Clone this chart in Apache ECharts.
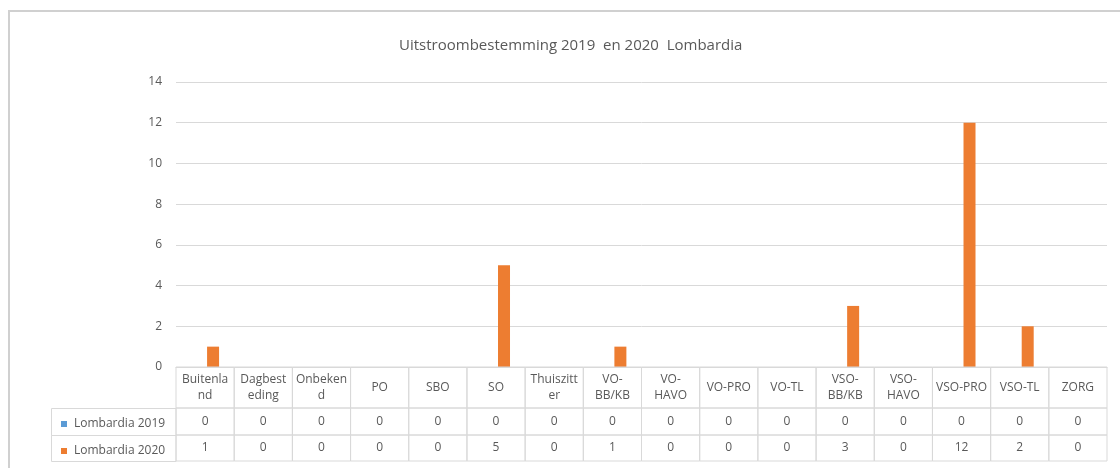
<!DOCTYPE html>
<html>
<head>
<meta charset="utf-8">
<script src="https://cdn.jsdelivr.net/npm/echarts@6/dist/echarts.min.js"></script>
<style>html,body{margin:0;padding:0;background:#fff}#c{width:1120px;height:468px}</style>
</head>
<body>
<div id="c"></div>
<script>
var titleText = 'Uitstroombestemming 2019  en 2020  Lombardia';
var categories = ['Buitenland','Dagbesteding','Onbekend','PO','SBO','SO','Thuiszitter','VO-BB/KB','VO-HAVO','VO-PRO','VO-TL','VSO-BB/KB','VSO-HAVO','VSO-PRO','VSO-TL','ZORG'];
var tickLabels = ['Buitenla\nnd','Dagbest\neding','Onbeken\nd','PO','SBO','SO','Thuiszitt\ner','VO-\nBB/KB','VO-\nHAVO','VO-PRO','VO-TL','VSO-\nBB/KB','VSO-\nHAVO','VSO-PRO','VSO-TL','ZORG'];
var seriesNames = ['Lombardia 2019','Lombardia 2020'];
var values2019 = [0,0,0,0,0,0,0,0,0,0,0,0,0,0,0,0];
var values2020 = [1,0,0,0,0,5,0,1,0,0,0,3,0,12,2,0];
var yTicks = [0,2,4,6,8,10,12,14];

var FONT = '"Open Sans", "Noto Sans", sans-serif';
var TXT = '#595959';
var LINE = '#d9d9d9';
var COLORS = ['#5b9bd5','#ed7d31'];
var ROWH = [41, 27, 26];

var tableData = categories.map(function(c, i){ return [i, values2019[i], values2020[i]]; });

var chart = echarts.init(document.getElementById('c'), null, {renderer:'canvas'});
var gridLeft = 176, gridTop = 82, gridBottomY = 367, gridRightX = 1107;

var option = {
  animation: false,
  color: COLORS,
  textStyle: {fontFamily: FONT},
  title: {
    text: titleText, left: 394, top: 33,
    textStyle: {fontFamily: FONT, fontSize: 15, fontWeight: 'normal', color: TXT}
  },
  legend: {
    data: seriesNames, orient: 'vertical', left: 56, top: 413,
    icon: 'rect', itemWidth: 6, itemHeight: 6, itemGap: 15,
    textStyle: {fontFamily: FONT, fontSize: 12, color: TXT, padding: [0,0,0,2]}
  },
  grid: {left: gridLeft, top: gridTop, right: 1120 - gridRightX, bottom: 468 - gridBottomY, containLabel: false},
  xAxis: {
    type: 'category', data: categories,
    axisLine: {show: true, lineStyle: {color: LINE}},
    axisTick: {show: false}, axisLabel: {show: false}
  },
  yAxis: {
    type: 'value', min: yTicks[0], max: yTicks[yTicks.length-1], interval: 2,
    axisLine: {show: false}, axisTick: {show: false},
    axisLabel: {color: TXT, fontFamily: FONT, fontSize: 12, margin: 14},
    splitLine: {lineStyle: {color: LINE, width: 1}}
  },
  series: [
    {name: seriesNames[0], type: 'bar', data: values2019, barWidth: 12, barGap: '33%', itemStyle: {color: COLORS[0]}},
    {name: seriesNames[1], type: 'bar', data: values2020, barWidth: 12, barGap: '33%', itemStyle: {color: COLORS[1]}},
    {
      type: 'custom', clip: false, silent: true, legendHoverLink: false,
      data: tableData, encode: {x: 0, y: 1},
      renderItem: function(params, api){
        var i = api.value(0);
        var p = api.coord([i, 0]);
        var w = api.size([1, 0])[0];
        var x0 = p[0] - w/2, y0 = p[1];
        var ch = [];
        var texts = [tickLabels[i], String(api.value(1)), String(api.value(2))];
        var y = y0;
        for (var r = 0; r < 3; r++) {
          ch.push({type:'rect', shape:{x:x0, y:y, width:w, height:ROWH[r]},
            style:{fill:'none', stroke:LINE, lineWidth:1}});
          ch.push({type:'text', x: x0 + w/2, y: y + ROWH[r]/2,
            style:{text: texts[r], textAlign:'center', textVerticalAlign:'middle',
              fill: TXT, font: '12px ' + FONT, lineHeight: 16}});
          y += ROWH[r];
        }
        return {type:'group', children: ch};
      },
      z: 5
    }
  ],
  graphic: [
    {type:'polyline', shape:{points:[[9,468],[9,11],[1120,11]]}, style:{stroke:'#d0d0d0', lineWidth:2, fill:null}},
    {type:'rect', shape:{x:51.5, y:367+ROWH[0]+0.5, width:gridLeft-51.5, height:ROWH[1]}, style:{fill:'none', stroke:LINE, lineWidth:1}},
    {type:'rect', shape:{x:51.5, y:367+ROWH[0]+ROWH[1]+0.5, width:gridLeft-51.5, height:ROWH[2]}, style:{fill:'none', stroke:LINE, lineWidth:1}}
  ]
};
chart.setOption(option);
</script>
</body>
</html>
